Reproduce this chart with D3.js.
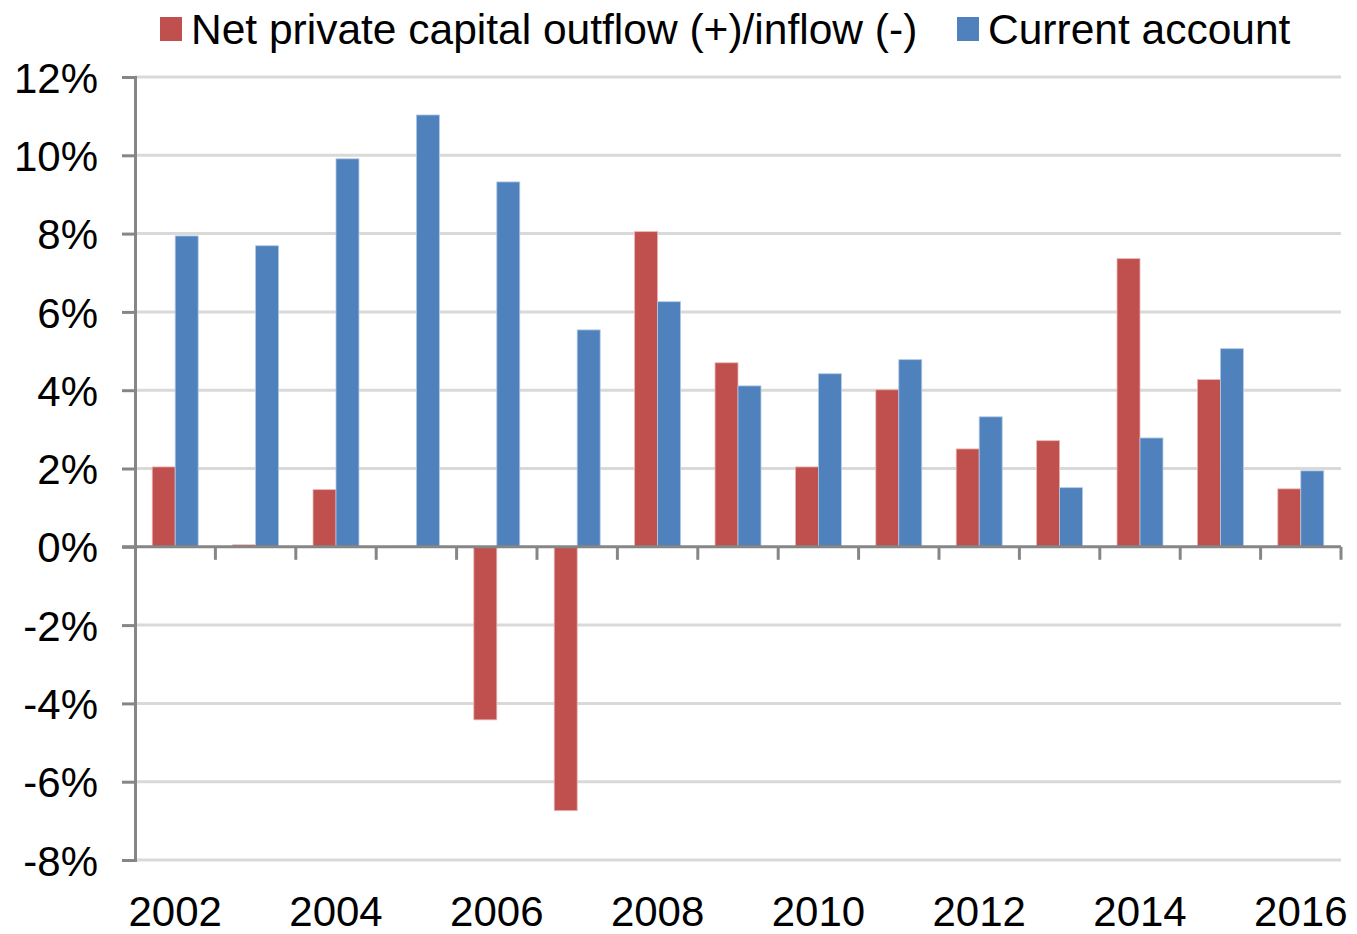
<!DOCTYPE html>
<html lang="en">
<head>
  <meta charset="UTF-8">
  <title>Net private capital flow and current account</title>
  <script src="https://d3js.org/d3.v7.min.js"></script>
  <style>
    body { margin: 0; background: #fff; }
    svg { display: block; }
    text { font-family: "Liberation Sans", Arial, sans-serif; fill: #000; }
  </style>
</head>
<body>
  <div id="chart"></div>
  <script>
    const years = [2002, 2003, 2004, 2005, 2006, 2007, 2008, 2009, 2010, 2011, 2012, 2013, 2014, 2015, 2016]
    const capitalFlow = [2.04, 0.05, 1.46, 0.02, -4.42, -6.74, 8.05, 4.70, 2.04, 4.01, 2.50, 2.71, 7.36, 4.27, 1.48]
    const currentAccount = [7.94, 7.69, 9.91, 11.03, 9.32, 5.54, 6.26, 4.11, 4.42, 4.78, 3.32, 1.51, 2.78, 5.06, 1.94]
    const yTicks = [-8, -6, -4, -2, 0, 2, 4, 6, 8, 10, 12]
    const yearLabels = [2002, 2004, 2006, 2008, 2010, 2012, 2014, 2016]

    const width = 1357
    const height = 934
    const plotLeft = 135, plotRight = 1341, plotTop = 77, plotBottom = 860

    const svg = d3.select('#chart').append('svg')
      .attr('width', width)
      .attr('height', height)

    const y = d3.scaleLinear().domain([-8, 12]).range([plotBottom, plotTop])
    const x = d3.scaleBand().domain(years).range([plotLeft, plotRight])
    // Excel gap width 150% => each bar is bandwidth / 3.5
    const barW = x.bandwidth() / 3.5
    const off = (x.bandwidth() - 2 * barW) / 2

    // gridlines
    svg.append('g').selectAll('line')
      .data(yTicks.filter(d => d !== 0))
      .join('line')
      .attr('x1', plotLeft).attr('x2', plotRight)
      .attr('y1', d => y(d)).attr('y2', d => y(d))
      .attr('stroke', '#d9d9d9').attr('stroke-width', 3)

    // y axis
    const yAxis = d3.axisLeft(y).tickValues(yTicks).tickSize(13).tickFormat(d => d + '%')
    const ya = svg.append('g').attr('transform', `translate(${plotLeft},0)`).call(yAxis)
    ya.select('.domain').attr('stroke', '#868686').attr('stroke-width', 3)
    ya.selectAll('.tick line').attr('stroke', '#868686').attr('stroke-width', 3)
    ya.selectAll('.tick text').attr('font-size', 42).attr('font-family', '"Liberation Sans", Arial, sans-serif')
      .attr('dy', '0.36em').attr('x', -37).attr('fill', '#000')

    // bars
    const groups = svg.append('g').selectAll('g')
      .data(years)
      .join('g')
      .attr('transform', d => `translate(${x(d)},0)`)

    groups.append('rect')
      .attr('x', off)
      .attr('width', barW)
      .attr('y', (d, i) => y(Math.max(0, capitalFlow[i])))
      .attr('height', (d, i) => Math.abs(y(capitalFlow[i]) - y(0)))
      .attr('fill', '#c0504d')
      .attr('stroke', '#e8b5b3').attr('stroke-width', 0.8)

    groups.append('rect')
      .attr('x', off + barW)
      .attr('width', barW)
      .attr('y', (d, i) => y(Math.max(0, currentAccount[i])))
      .attr('height', (d, i) => Math.abs(y(currentAccount[i]) - y(0)))
      .attr('fill', '#4f81bd')
      .attr('stroke', '#b3c9e3').attr('stroke-width', 0.8)

    // zero axis with category ticks
    const xa = svg.append('g').attr('transform', `translate(0,${y(0)})`)
    xa.append('line').attr('x1', plotLeft - 13).attr('x2', plotRight)
      .attr('stroke', '#868686').attr('stroke-width', 3)
    xa.selectAll('.cat-tick')
      .data(years)
      .join('line')
      .attr('class', 'cat-tick')
      .attr('x1', d => x(d) + x.bandwidth()).attr('x2', d => x(d) + x.bandwidth())
      .attr('y1', 0).attr('y2', 13)
      .attr('stroke', '#868686').attr('stroke-width', 3)

    // year labels
    svg.append('g').selectAll('text')
      .data(yearLabels)
      .join('text')
      .attr('x', d => x(d) + x.bandwidth() / 2)
      .attr('y', 926)
      .attr('text-anchor', 'middle')
      .attr('font-size', 42)
      .text(d => d)

    // legend
    const legendItems = [
      { label: 'Net private capital outflow (+)/inflow (-)', color: '#c0504d', x: 160 },
      { label: 'Current account', color: '#4f81bd', x: 957 }
    ]
    const lg = svg.append('g').selectAll('g')
      .data(legendItems)
      .join('g')
      .attr('transform', d => `translate(${d.x},0)`)
    lg.append('rect').attr('x', 0).attr('y', 17).attr('width', 22).attr('height', 24)
      .attr('fill', d => d.color)
    lg.append('text').attr('x', 31).attr('y', 44).attr('font-size', 42.5).text(d => d.label)
  </script>
</body>
</html>
